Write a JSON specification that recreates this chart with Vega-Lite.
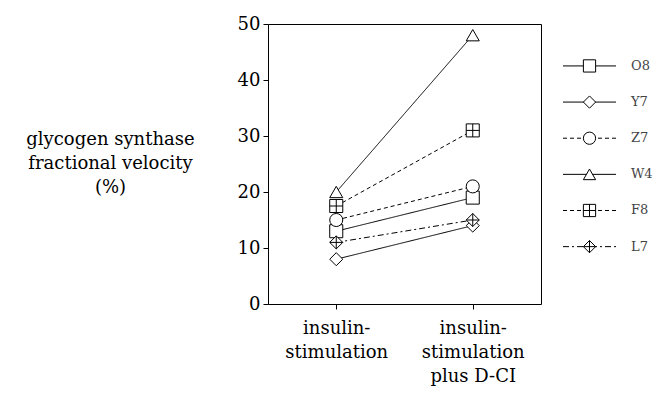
{
  "$schema": "https://vega.github.io/schema/vega-lite/v6.json",
  "padding": {"left": 25, "top": 14, "right": 5, "bottom": 5},
  "background": "white",
  "config": {
    "font": "DejaVu Serif",
    "view": {"stroke": "black", "strokeWidth": 1}
  },
  "datasets": {
    "main": [
      {"series": "O8", "condition": "insulin-stimulation", "value": 13},
      {"series": "O8", "condition": "insulin-stimulation plus D-CI", "value": 19},
      {"series": "Y7", "condition": "insulin-stimulation", "value": 8},
      {"series": "Y7", "condition": "insulin-stimulation plus D-CI", "value": 14},
      {"series": "Z7", "condition": "insulin-stimulation", "value": 15},
      {"series": "Z7", "condition": "insulin-stimulation plus D-CI", "value": 21},
      {"series": "W4", "condition": "insulin-stimulation", "value": 20},
      {"series": "W4", "condition": "insulin-stimulation plus D-CI", "value": 48},
      {"series": "F8", "condition": "insulin-stimulation", "value": 17.5},
      {"series": "F8", "condition": "insulin-stimulation plus D-CI", "value": 31},
      {"series": "L7", "condition": "insulin-stimulation", "value": 11},
      {"series": "L7", "condition": "insulin-stimulation plus D-CI", "value": 15}
    ],
    "legend": [
      {"series": "O8"}, {"series": "Y7"}, {"series": "Z7"},
      {"series": "W4"}, {"series": "F8"}, {"series": "L7"}
    ]
  },
  "spacing": 20,
  "resolve": {"scale": {"x": "independent", "y": "independent"}},
  "hconcat": [
    {
      "width": 273,
      "height": 280,
      "data": {"name": "main"},
      "encoding": {
        "x": {
          "field": "condition", "type": "nominal",
          "scale": {"type": "point", "padding": 0.5, "domain": ["insulin-stimulation", "insulin-stimulation plus D-CI"]},
          "axis": {
            "title": null, "domain": false, "grid": false,
            "tickColor": "black", "tickSize": 5,
            "labelAngle": 0, "labelFont": "DejaVu Serif", "labelFontSize": 18, "labelColor": "black",
            "labelBaseline": "top", "labelPadding": 10, "labelLineHeight": 24,
            "labelExpr": "datum.value == 'insulin-stimulation' ? ['insulin-', 'stimulation'] : ['insulin-', 'stimulation', 'plus D-CI']"
          }
        },
        "y": {
          "field": "value", "type": "quantitative",
          "scale": {"domain": [0, 50]},
          "axis": {
            "values": [0, 10, 20, 30, 40, 50], "domain": false, "grid": false,
            "tickColor": "black", "tickSize": 5,
            "labelFont": "DejaVu Serif", "labelFontSize": 18, "labelColor": "black", "labelPadding": 3,
            "title": ["glycogen synthase", "fractional velocity", "(%)"],
            "titleFont": "DejaVu Serif", "titleFontSize": 18, "titleFontWeight": "normal", "titleColor": "black",
            "titleAngle": 0, "titleAlign": "center", "titleBaseline": "alphabetic",
            "titleLineHeight": 24, "titleX": -158, "titleY": 120
          }
        }
      },
      "layer": [
        {
          "mark": {"type": "line", "stroke": "black", "strokeWidth": 1},
          "encoding": {
            "detail": {"field": "series"},
            "strokeDash": {
              "field": "series", "type": "nominal",
              "scale": {"domain": ["O8", "Y7", "Z7", "W4", "F8", "L7"], "range": [[1, 0], [1, 0], [4, 3], [1, 0], [4, 3], [6, 3, 2, 3]]},
              "legend": null
            }
          }
        },
        {
          "mark": {"type": "point", "filled": true, "fill": "white", "stroke": "black", "strokeWidth": 1, "size": 170, "opacity": 1},
          "encoding": {
            "shape": {
              "field": "series", "type": "nominal",
              "scale": {"domain": ["O8", "Y7", "Z7", "W4", "F8", "L7"], "range": ["square", "diamond", "circle", "triangle-up", "M-1,-1L1,-1L1,1L-1,1Z M0,-1L0,1 M-1,0L1,0", "M0,-1L1,0L0,1L-1,0Z M0,-1L0,1 M-1,0L1,0"]},
              "legend": null
            }
          }
        }
      ]
    },
    {
      "width": 53,
      "height": 253,
      "view": {"stroke": null},
      "data": {"name": "legend"},
      "encoding": {
        "y": {
          "field": "series", "type": "nominal",
          "scale": {"type": "point", "domain": ["O8", "Y7", "Z7", "W4", "F8", "L7"], "padding": 1, "align": 0.58},
          "axis": null
        }
      },
      "layer": [
        {
          "mark": {"type": "rule", "stroke": "black", "strokeWidth": 1},
          "encoding": {
            "x": {"datum": 0, "type": "quantitative", "scale": {"domain": [0, 1]}, "axis": null},
            "x2": {"datum": 1},
            "strokeDash": {
              "field": "series", "type": "nominal",
              "scale": {"domain": ["O8", "Y7", "Z7", "W4", "F8", "L7"], "range": [[1, 0], [1, 0], [4, 3], [1, 0], [4, 3], [6, 3, 2, 3]]},
              "legend": null
            }
          }
        },
        {
          "mark": {"type": "point", "filled": true, "fill": "white", "stroke": "black", "strokeWidth": 1, "size": 150, "opacity": 1},
          "encoding": {
            "x": {"datum": 0.5, "type": "quantitative", "scale": {"domain": [0, 1]}, "axis": null},
            "shape": {
              "field": "series", "type": "nominal",
              "scale": {"domain": ["O8", "Y7", "Z7", "W4", "F8", "L7"], "range": ["square", "diamond", "circle", "triangle-up", "M-1,-1L1,-1L1,1L-1,1Z M0,-1L0,1 M-1,0L1,0", "M0,-1L1,0L0,1L-1,0Z M0,-1L0,1 M-1,0L1,0"]},
              "legend": null
            }
          }
        },
        {
          "mark": {"type": "text", "align": "left", "baseline": "middle", "dx": 15, "font": "DejaVu Serif", "fontSize": 13, "fill": "#444"},
          "encoding": {
            "x": {"datum": 1, "type": "quantitative", "scale": {"domain": [0, 1]}, "axis": null},
            "text": {"field": "series"}
          }
        }
      ]
    }
  ]
}
